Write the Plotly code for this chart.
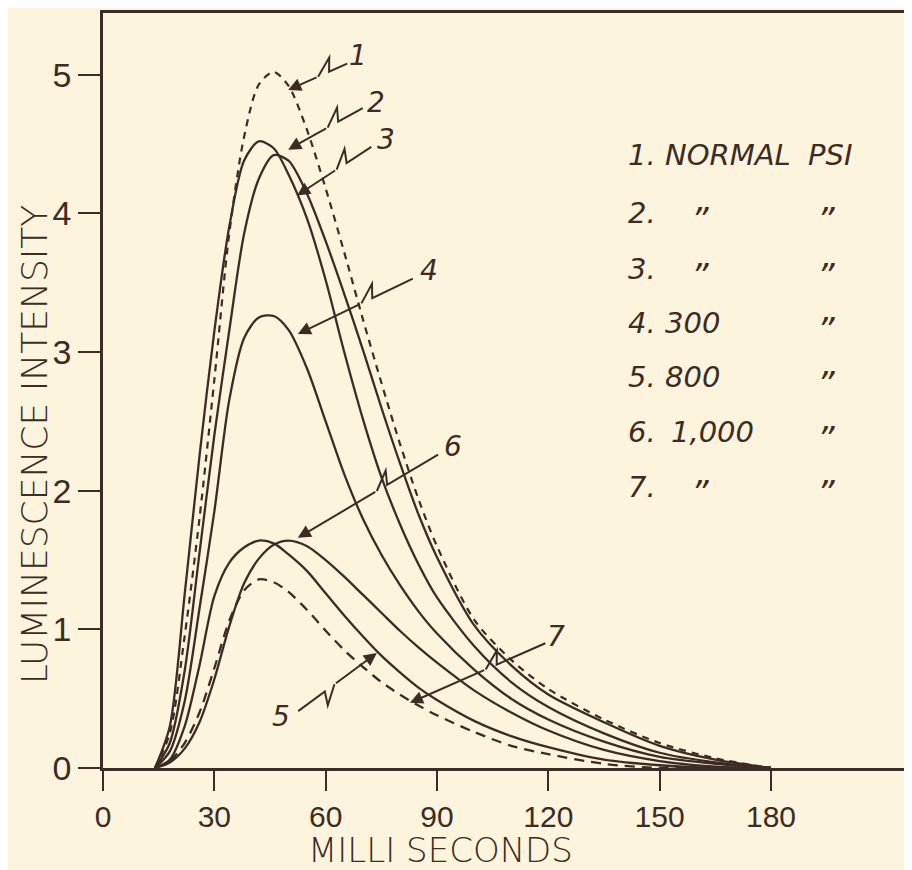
import plotly.graph_objects as go

# ---------------- data ----------------
ms = [14, 18, 22, 26, 30, 34, 38, 42, 46, 50, 55, 60, 65, 70, 75, 80, 85, 90,
      100, 110, 120, 135, 150, 165, 180]

curve1 = [0, 0.25, 0.95, 1.8, 2.8, 3.85, 4.55, 4.93, 5.02, 4.92, 4.6, 4.18, 3.72,
          3.24, 2.78, 2.34, 1.94, 1.6, 1.07, 0.78, 0.57, 0.35, 0.18, 0.07, 0]
curve2 = [0, 0.3, 1.25, 2.25, 3.15, 3.9, 4.38, 4.52, 4.47, 4.28, 3.96, 3.52, 3.0,
          2.52, 2.1, 1.76, 1.47, 1.23, 0.88, 0.62, 0.44, 0.25, 0.11, 0.04, 0]
curve3 = [0, 0.18, 0.7, 1.55, 2.4, 3.15, 3.85, 4.25, 4.42, 4.38, 4.14, 3.8, 3.42,
          3.02, 2.6, 2.2, 1.83, 1.52, 1.03, 0.74, 0.53, 0.33, 0.16, 0.06, 0]
curve4 = [0, 0.12, 0.48, 1.15, 1.85, 2.65, 3.1, 3.25, 3.26, 3.16, 2.88, 2.5, 2.12,
          1.8, 1.54, 1.32, 1.13, 0.97, 0.71, 0.5, 0.35, 0.19, 0.08, 0.03, 0]
curve5 = [0, 0.06, 0.3, 0.74, 1.24, 1.48, 1.59, 1.64, 1.62, 1.54, 1.42, 1.26, 1.1,
          0.95, 0.81, 0.69, 0.58, 0.49, 0.34, 0.23, 0.15, 0.06, 0.02, 0, 0]
curve6 = [0, 0.04, 0.14, 0.33, 0.64, 1.02, 1.33, 1.51, 1.61, 1.64, 1.6, 1.5, 1.38,
          1.25, 1.12, 0.99, 0.87, 0.76, 0.56, 0.4, 0.27, 0.13, 0.05, 0.01, 0]
curve7 = [0, 0.05, 0.18, 0.4, 0.72, 1.06, 1.28, 1.36, 1.34, 1.27, 1.14, 0.99, 0.85,
          0.73, 0.62, 0.53, 0.45, 0.38, 0.26, 0.16, 0.1, 0.03, 0, 0, 0]

x_ticks = [0, 30, 60, 90, 120, 150, 180]
y_ticks = [0, 1, 2, 3, 4, 5]

legend_nums = ["1.", "2.", "3.", "4.", "5.", "6.", "7."]
legend_psi = ["NORMAL", "\u201d", "\u201d", "300", "800", "1,000", "\u201d"]
legend_unit = ["PSI", "\u201d", "\u201d", "\u201d", "\u201d", "\u201d", "\u201d"]

curve_labels = ["1", "2", "3", "4", "5", "6", "7"]
# label position, leader start, arrow tip  (ms, intensity)
label_pos = [(68.7, 5.14), (73.6, 4.80), (76.3, 4.53), (87.8, 3.59),
             (48.0, 0.37), (94.2, 2.32), (122.0, 0.95)]
leader_start = [(65.8, 5.08), (70.0, 4.76), (72.3, 4.48), (83.5, 3.53),
                (52.6, 0.41), (90.3, 2.26), (119.2, 0.90)]
arrow_tip = [(49.9, 4.89), (49.9, 4.46), (52.3, 4.13), (52.5, 3.13),
             (73.8, 0.83), (52.5, 1.66), (82.7, 0.47)]

# ---------------- style ----------------
INK = "#3d2b25"
BG = "#fcf4dc"
LETTER = "DejaVu Sans"
DIGITS = "Liberation Sans"
PX_PER_MS = 3.711
PX_PER_UNIT = 139.2
PLOT_W, PLOT_H = 802, 758

fig = go.Figure()

series = [
    (curve1, dict(dash="7px,6px", width=2.2)),
    (curve2, dict(width=2.3)),
    (curve3, dict(width=2.3)),
    (curve4, dict(width=2.3)),
    (curve5, dict(width=2.3)),
    (curve6, dict(width=2.3)),
    (curve7, dict(dash="10px,7px", width=2.3)),
]
for vals, ln in series:
    fig.add_trace(go.Scatter(
        x=ms, y=vals, mode="lines",
        line=dict(color=INK, shape="spline", smoothing=0.8, **ln),
        showlegend=False, hoverinfo="skip"))

annotations = []
shapes = []

for lab, (lx, ly), (sx, sy), (tx, ty) in zip(curve_labels, label_pos, leader_start, arrow_tip):
    annotations.append(dict(x=lx, y=ly, xref="x", yref="y", text=lab, showarrow=False,
                            font=dict(family=LETTER, size=28, color=INK, style="italic",
                                      weight=200)))
    x0p, y0p = sx * PX_PER_MS, sy * PX_PER_UNIT
    x1p, y1p = tx * PX_PER_MS, ty * PX_PER_UNIT
    dx, dy = x1p - x0p, y1p - y0p
    L = (dx * dx + dy * dy) ** 0.5
    ux, uy = dx / L, dy / L
    nx, ny = -uy, ux
    mx, my = x0p + dx * 0.40, y0p + dy * 0.40
    a = (mx - 6 * ux, my - 6 * uy)
    b = (mx - 12 * ux - 13 * nx, my - 12 * uy - 13 * ny)
    c = (mx + 6 * ux, my + 6 * uy)
    pts = [(x0p, y0p), a, b, c]
    path = "M " + " L ".join(f"{px / PX_PER_MS:.3f},{py / PX_PER_UNIT:.4f}" for px, py in pts)
    shapes.append(dict(type="path", path=path, xref="x", yref="y",
                       line=dict(color=INK, width=2)))
    annotations.append(dict(x=tx, y=ty, ax=c[0] / PX_PER_MS, ay=c[1] / PX_PER_UNIT,
                            xref="x", yref="y", axref="x", ayref="y", text="",
                            showarrow=True, arrowhead=2, arrowsize=1.3, arrowwidth=2,
                            arrowcolor=INK))

# legend table
row_y = [4.42, 4.00, 3.60, 3.21, 2.82, 2.42, 2.03]
for n, v, u, yy in zip(legend_nums, legend_psi, legend_unit, row_y):
    f = dict(family=LETTER, size=29, color=INK, style="italic", weight=200)
    annotations.append(dict(x=141.0, y=yy, xref="x", yref="y", text=n, showarrow=False,
                            xanchor="left", font=f))
    if v == "\u201d":
        annotations.append(dict(x=160.8, y=yy - 0.05, xref="x", yref="y", text=v, showarrow=False,
                                xanchor="center", font=dict(f, size=34)))
    else:
        annotations.append(dict(x=151.0 if v != "1,000" else 152.5, y=yy, xref="x", yref="y",
                                text=v, showarrow=False, xanchor="left", font=f))
    if u == "\u201d":
        annotations.append(dict(x=194.8, y=yy - 0.05, xref="x", yref="y", text=u, showarrow=False,
                                xanchor="center", font=dict(f, size=34)))
    else:
        annotations.append(dict(x=189.5, y=yy, xref="x", yref="y", text=u, showarrow=False,
                                xanchor="left", font=f))

# axis titles (paper coordinates, relative to the plot area)
annotations.append(dict(x=(440 - 103) / PLOT_W, y=(768 - 850) / PLOT_H, xref="paper", yref="paper",
                        xanchor="center", yanchor="middle",
                        text="MILLI SECONDS", showarrow=False,
                        font=dict(family=LETTER, size=34, color=INK, weight=200)))
annotations.append(dict(x=(34 - 103) / PLOT_W, y=(768 - 443) / PLOT_H, xref="paper", yref="paper",
                        xanchor="center", yanchor="middle",
                        text="LUMINESCENCE INTENSITY", textangle=-90, showarrow=False,
                        font=dict(family=LETTER, size=36, color=INK, weight=200)))

# page body has an 8px margin, so the figure is shrunk by that amount
fig.update_layout(
    width=904, height=862,
    margin=dict(l=95, r=7, t=2, b=102),
    paper_bgcolor=BG, plot_bgcolor=BG,
    annotations=annotations, shapes=shapes,
    xaxis=dict(range=[0, PLOT_W / PX_PER_MS], tickvals=x_ticks, ticktext=[str(t) for t in x_ticks],
               showgrid=False, zeroline=False, showline=True, linecolor=INK, linewidth=2.5,
               mirror=True, ticks="outside", ticklen=20, tickwidth=2.2, tickcolor=INK,
               tickfont=dict(family=DIGITS, size=30, color=INK)),
    yaxis=dict(range=[0, PLOT_H / PX_PER_UNIT], tickvals=y_ticks, ticktext=[str(t) for t in y_ticks],
               showgrid=False, zeroline=False, showline=True, linecolor=INK, linewidth=2.5,
               mirror=True, ticks="outside", ticklen=22, tickwidth=2.2, tickcolor=INK,
               tickfont=dict(family=DIGITS, size=34, color=INK)),
)

fig.write_html("out.html")
